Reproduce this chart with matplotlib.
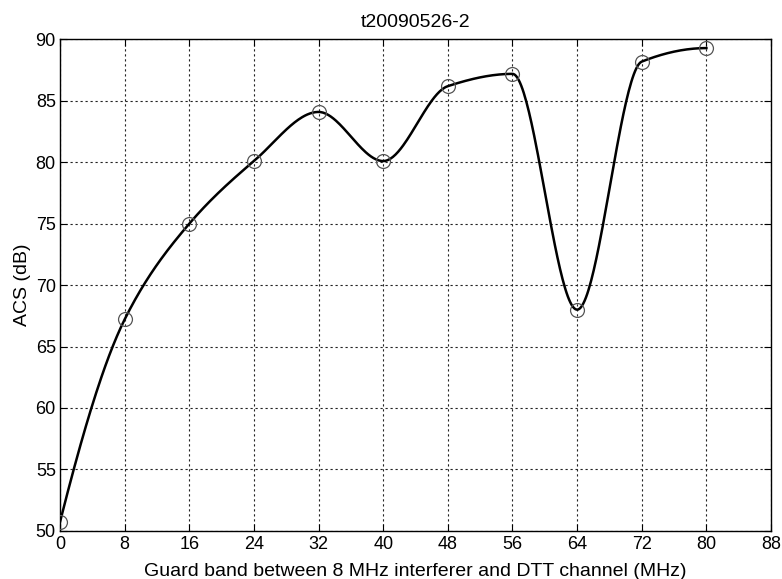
import matplotlib
matplotlib.use("Agg")
import matplotlib.pyplot as plt
import numpy as np

plt.rcParams['font.family'] = ['Liberation Sans', 'DejaVu Sans']

# guard band (MHz) and measured ACS (dB)
guard = np.array([0, 8, 16, 24, 32, 40, 48, 56, 64, 72, 80])
acs = np.array([50.7, 67.2, 75.0, 80.1, 84.1, 80.1, 86.2, 87.2, 68.0, 88.2, 89.3])
xticks = [0, 8, 16, 24, 32, 40, 48, 56, 64, 72, 80, 88]
yticks = [50, 55, 60, 65, 70, 75, 80, 85, 90]


def pchip(x, y, xs):
    # shape preserving piecewise cubic (Fritsch-Carlson, like matlab pchip)
    h = np.diff(x)
    delta = np.diff(y) / h
    n = len(x)
    d = np.zeros(n)
    for k in range(1, n - 1):
        if delta[k - 1] * delta[k] > 0:
            w1 = 2 * h[k] + h[k - 1]
            w2 = h[k] + 2 * h[k - 1]
            d[k] = (w1 + w2) / (w1 / delta[k - 1] + w2 / delta[k])
    # end slopes
    def end(h0, h1, del0, del1):
        dd = ((2 * h0 + h1) * del0 - h0 * del1) / (h0 + h1)
        if np.sign(dd) != np.sign(del0):
            dd = 0.0
        elif np.sign(del0) != np.sign(del1) and abs(dd) > abs(3 * del0):
            dd = 3 * del0
        return dd
    d[0] = end(h[0], h[1], delta[0], delta[1])
    d[-1] = end(h[-1], h[-2], delta[-1], delta[-2])
    k = np.clip(np.searchsorted(x, xs) - 1, 0, n - 2)
    t = (xs - x[k]) / h[k]
    h00 = 2 * t**3 - 3 * t**2 + 1
    h10 = t**3 - 2 * t**2 + t
    h01 = -2 * t**3 + 3 * t**2
    h11 = t**3 - t**2
    return h00 * y[k] + h10 * h[k] * d[k] + h01 * y[k + 1] + h11 * h[k] * d[k + 1]


xs = np.linspace(guard[0], guard[-1], 500)
ys = pchip(guard.astype(float), acs, xs)

fig = plt.figure(figsize=(7.82, 5.79), dpi=100)
ax = fig.add_axes([0.0767, 0.0834, 0.9093, 0.8484])

ax.plot(xs, ys, color='black', linewidth=1.8, zorder=3)
ax.plot(guard, acs, 'o', markersize=10, markerfacecolor='none',
        markeredgecolor='#555555', markeredgewidth=0.9, zorder=4)

ax.set_xlim(0, 88)
ax.set_ylim(50, 90)
ax.set_xticks(xticks)
ax.set_yticks(yticks)
ax.tick_params(direction='in', length=5, labelsize=13, top=True, right=True)
ax.tick_params(axis='x', pad=4)
ax.tick_params(axis='y', pad=3)
ax.grid(True, color='#222222', linestyle=(0, (2, 2.5)), linewidth=0.8)
for s in ax.spines.values():
    s.set_linewidth(1.0)

ax.set_title("t20090526-2", fontsize=14, pad=9)
ax.set_xlabel("Guard band between 8 MHz interferer and DTT channel (MHz)", fontsize=14, labelpad=7)
ax.set_ylabel("ACS (dB)", fontsize=14, labelpad=3)

fig.savefig("out.png", dpi=100)
